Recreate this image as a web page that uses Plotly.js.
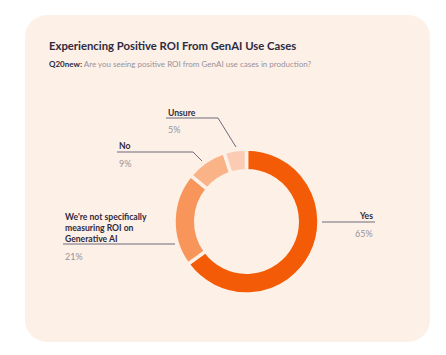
<!DOCTYPE html>
<html>
<head>
<meta charset="utf-8">
<script src="https://cdn.plot.ly/plotly-3.0.1.min.js"></script>
<style>
  html, body { margin: 0; padding: 0; background: #ffffff; }
  #card { position: absolute; left: 25px; top: 15px; width: 405px; height: 327px; background: #FDF0E7; border-radius: 22px; }
  #chart { position: absolute; left: 0; top: 0; width: 446px; height: 355px; }
</style>
</head>
<body>
<div id="card"></div>
<div id="chart"></div>
<script>
const labels = ["Yes", "We're not specifically<br>measuring ROI on<br>Generative AI", "No", "Unsure"];
const values = [65, 21, 9, 5];
const colors = ["#F45B06", "#F7955B", "#F9B387", "#FBCCB3"];
const titleText = "Experiencing Positive ROI From GenAI Use Cases";
const subtitleBold = "Q20new:";
const subtitleText = "Are you seeing positive ROI from GenAI use cases in production?";

const W = 446, H = 355;
const px = x => x / W;
const py = y => 1 - y / H;

const dark = "#2E2A40", gray = "#97929C", lineCol = "#6F6A7A";
const FONT = "Lato, 'Open Sans', sans-serif";

const place = [
  {x: 375, y: 214, anchor: "right", py: 233, line: [[322,222],[375,222]]},
  {x: 63, y: 215, anchor: "left", py: 256, line: [[63,244],[175,244]]},
  {x: 117, y: 145, anchor: "left", py: 163, line: [[117,152],[193,152],[202,161]]},
  {x: 166, y: 111, anchor: "left", py: 129, line: [[166,118],[218,118],[236,147]]}
];

const annotations = [
  {xref:"paper", yref:"paper", x: px(47), y: py(45), xanchor:"left", yanchor:"middle", showarrow:false,
   text: "<b>" + titleText + "</b>", font:{family:FONT, size:11.3, color:dark}},
  {xref:"paper", yref:"paper", x: px(47), y: py(64), xanchor:"left", yanchor:"middle", showarrow:false,
   text: "<b>" + subtitleBold + "</b> <span style='color:" + gray + "'>" + subtitleText + "</span>",
   font:{family:FONT, size:8, color:dark}}
];
const shapes = [];
labels.forEach((lab, i) => {
  const p = place[i];
  annotations.push({xref:"paper", yref:"paper", x: px(p.x), y: py(p.y - 5.5), xanchor: p.anchor, yanchor:"top",
    align: p.anchor, showarrow:false, text: "<b>" + lab + "</b>",
    font:{family:FONT, size:8.6, color:dark}});
  annotations.push({xref:"paper", yref:"paper", x: px(p.x), y: py(p.py), xanchor: p.anchor, yanchor:"middle",
    showarrow:false, text: values[i] + "%", font:{family:FONT, size:9, color:gray}});
  const d = p.line.map((pt, k) => (k === 0 ? "M" : "L") + px(pt[0]) + "," + py(pt[1])).join(" ");
  shapes.push({type:"path", xref:"paper", yref:"paper", path: d, line:{color:lineCol, width:1}});
});

const cx = 246.5, cy = 221.5, r = 72.5;
const data = [{
  type: "pie",
  labels: labels,
  values: values,
  sort: false,
  direction: "clockwise",
  rotation: 0,
  hole: 0.70,
  textinfo: "none",
  hoverinfo: "label+percent",
  marker: {colors: colors, line: {color: "#FDF0E7", width: 3.5}},
  domain: {x: [px(cx - r), px(cx + r)], y: [py(cy + r), py(cy - r)]},
  showlegend: false
}];

const layout = {
  width: W, height: H,
  margin: {l:0, r:0, t:0, b:0},
  paper_bgcolor: "rgba(0,0,0,0)",
  plot_bgcolor: "rgba(0,0,0,0)",
  annotations: annotations,
  shapes: shapes,
  showlegend: false
};

Plotly.newPlot("chart", data, layout, {displayModeBar: false, staticPlot: true});
</script>
</body>
</html>
